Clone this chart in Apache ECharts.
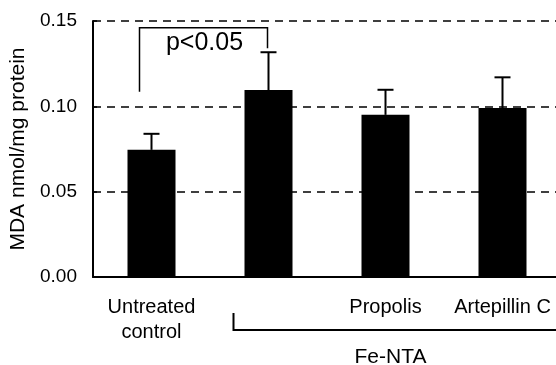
<!DOCTYPE html>
<html>
<head>
<meta charset="utf-8">
<script src="https://cdn.jsdelivr.net/npm/echarts@6/dist/echarts.min.js"></script>
<style>
  html, body { margin: 0; padding: 0; background: #fff; }
  #mda { width: 556px; height: 365px; }
</style>
</head>
<body>
<div id="mda"></div>
<script>
var groups = ['Untreated\ncontrol', '', 'Propolis', 'Artepillin C'];
var mdaMean = [0.0745, 0.1095, 0.095, 0.099];
var mdaErr = [0.0094, 0.0222, 0.0147, 0.018];
var yTicks = [0, 0.05, 0.10, 0.15];

var FONT = 'Liberation Sans, Arial, sans-serif';

var mda = echarts.init(document.getElementById('mda'));

var mda_option = {
    animation: false,
    textStyle: { fontFamily: FONT, color: '#000' },
    grid: {
        left: 93,
        right: -5,
        top: 21,
        bottom: 88,
        outerBoundsMode: 'none'
    },
    xAxis: {
        type: 'category',
        data: groups,
        axisLine: { lineStyle: { color: '#000', width: 2 } },
        axisTick: { inside: true, length: 5, lineStyle: { color: '#000', width: 1.5 } },
        axisLabel: {
            color: '#000',
            fontSize: 20,
            fontFamily: FONT,
            lineHeight: 25,
            margin: 18,
            interval: 0
        }
    },
    yAxis: {
        type: 'value',
        min: yTicks[0],
        max: yTicks[yTicks.length - 1],
        interval: 0.05,
        name: 'MDA nmol/mg protein',
        nameLocation: 'middle',
        nameGap: 60,
        nameTextStyle: { fontSize: 21, color: '#000', fontFamily: FONT },
        axisLine: { show: true, lineStyle: { color: '#000', width: 2 } },
        axisTick: { show: true, inside: true, length: 4, lineStyle: { color: '#000', width: 1.5 } },
        axisLabel: {
            color: '#000',
            fontSize: 19,
            fontFamily: FONT,
            margin: 16,
            formatter: function (v) { return v.toFixed(2); }
        },
        splitLine: {
            show: true,
            lineStyle: { color: '#000', width: 1.5, type: [8, 6] }
        }
    },
    series: [
        {
            name: 'MDA',
            type: 'bar',
            data: mdaMean,
            barWidth: 48,
            itemStyle: { color: '#000' },
            z: 3
        },
        {
            name: 'SD',
            type: 'custom',
            data: mdaMean.map(function (m, i) { return [i, m, m + mdaErr[i]]; }),
            renderItem: function (params, api) {
                var base = api.coord([api.value(0), api.value(1)]);
                var top = api.coord([api.value(0), api.value(2)]);
                var cap = 8;
                return {
                    type: 'group',
                    children: [
                        {
                            type: 'line',
                            shape: { x1: base[0], y1: base[1], x2: top[0], y2: top[1] },
                            style: { stroke: '#000', lineWidth: 2 }
                        },
                        {
                            type: 'line',
                            shape: { x1: top[0] - cap, y1: top[1], x2: top[0] + cap, y2: top[1] },
                            style: { stroke: '#000', lineWidth: 2 }
                        }
                    ]
                };
            },
            z: 4
        }
    ]
};

mda.setOption(mda_option);

// significance bracket and Fe-NTA group bracket, placed from the axes
var c0 = mda.convertToPixel({ xAxisIndex: 0 }, 0);
var c1 = mda.convertToPixel({ xAxisIndex: 0 }, 1);
var c2 = mda.convertToPixel({ xAxisIndex: 0 }, 2);
var yPix = function (v) { return mda.convertToPixel({ yAxisIndex: 0 }, v); };
var baseY = yPix(0);
var sigL = c0 - 12;
var sigR = c1 - 1;

mda.setOption({
    graphic: [
        {
            type: 'polyline',
            shape: { points: [[sigL, yPix(0.1085)], [sigL, yPix(0.146)], [sigR, yPix(0.146)], [sigR, yPix(0.134)]] },
            style: { stroke: '#000', lineWidth: 1.5, fill: null },
            z: 10
        },
        {
            type: 'text',
            x: (sigL + sigR) / 2 + 1,
            y: yPix(0.137),
            style: {
                text: 'p<0.05',
                fontSize: 25,
                fontFamily: FONT,
                fill: '#000',
                align: 'center',
                verticalAlign: 'middle'
            },
            z: 10
        },
        {
            type: 'polyline',
            shape: { points: [[c1 - 35, baseY + 36], [c1 - 35, baseY + 53], [600, baseY + 53]] },
            style: { stroke: '#000', lineWidth: 2, fill: null },
            z: 10
        },
        {
            type: 'text',
            x: c2 + 5,
            y: baseY + 80,
            style: {
                text: 'Fe-NTA',
                fontSize: 21,
                fontFamily: FONT,
                fill: '#000',
                align: 'center',
                verticalAlign: 'middle'
            },
            z: 10
        }
    ]
});
</script>
</body>
</html>
